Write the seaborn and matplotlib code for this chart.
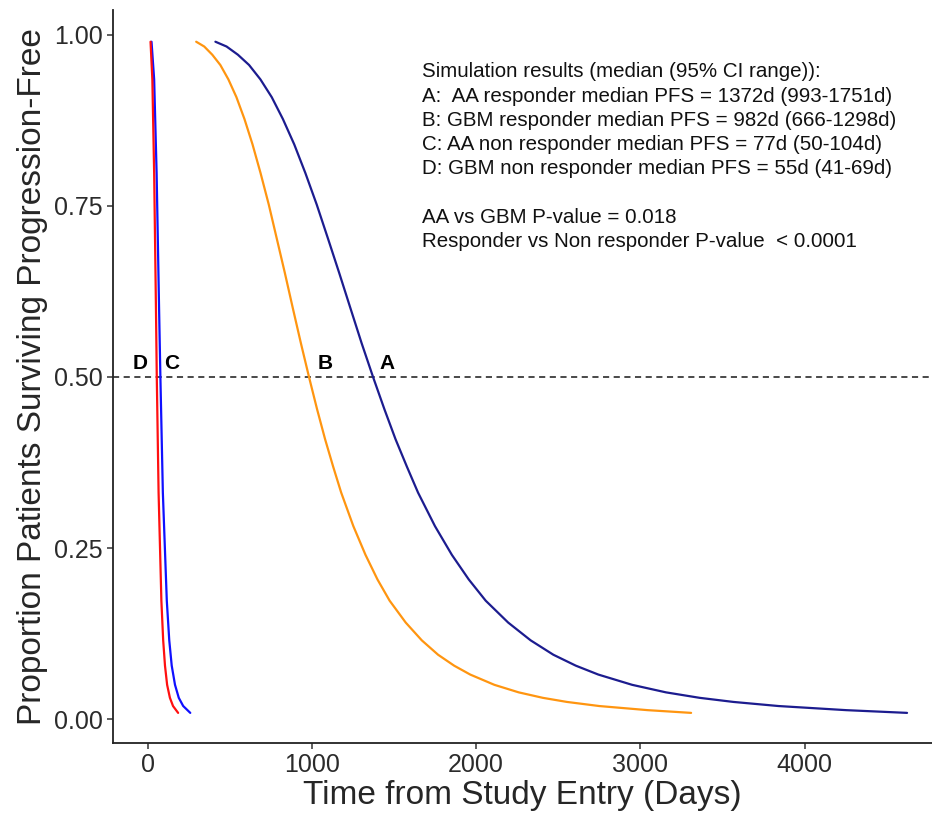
import pandas as pd
import matplotlib.pyplot as plt
import seaborn as sns

# ---- data (days, proportion progression-free) ----
a_days = [412, 480, 549, 617, 686, 755, 823, 892, 960, 1029, 1098, 1166, 1235,
          1303, 1372, 1441, 1509, 1578, 1646, 1749, 1852, 1955, 2058, 2195, 2332,
          2470, 2607, 2744, 2950, 3156, 3361, 3567, 3842, 4253, 4624]
b_days = [295, 344, 393, 442, 491, 540, 589, 638, 687, 737, 786, 835, 884,
          933, 982, 1031, 1080, 1129, 1178, 1252, 1326, 1399, 1473, 1571, 1669,
          1768, 1866, 1964, 2111, 2259, 2406, 2553, 2750, 3044, 3309]
ab_prop = [0.990, 0.983, 0.971, 0.956, 0.935, 0.909, 0.877, 0.840, 0.798, 0.752,
           0.702, 0.652, 0.600, 0.549, 0.500, 0.453, 0.409, 0.369, 0.331, 0.282,
           0.240, 0.204, 0.173, 0.141, 0.115, 0.094, 0.078, 0.065, 0.050, 0.039,
           0.031, 0.025, 0.019, 0.013, 0.009]

c_days = [23, 39, 54, 69, 77, 92, 116, 131, 146, 166, 189, 216, 259]
d_days = [17, 28, 39, 50, 55, 66, 83, 94, 105, 118, 135, 154, 185]
cd_prop = [0.990, 0.935, 0.798, 0.600, 0.500, 0.331, 0.173, 0.115, 0.078,
           0.050, 0.031, 0.019, 0.009]

curve_names = ['A', 'B', 'C', 'D']
curve_colors = {'A': '#1c1c8f', 'B': '#ff9510', 'C': '#1010ff', 'D': '#ff1010'}

label_x = [1459, 1080, 145, -44]
label_txt = ['A', 'B', 'C', 'D']

info_lines = [
    "Simulation results (median (95% CI range)):",
    "A:  AA responder median PFS = 1372d (993-1751d)",
    "B: GBM responder median PFS = 982d (666-1298d)",
    "C: AA non responder median PFS = 77d (50-104d)",
    "D: GBM non responder median PFS = 55d (41-69d)",
    "",
    "AA vs GBM P-value = 0.018",
    "Responder vs Non responder P-value  < 0.0001",
]

rows = []
for name, xs, ys in zip(curve_names, [a_days, b_days, c_days, d_days],
                        [ab_prop, ab_prop, cd_prop, cd_prop]):
    for x, y in zip(xs, ys):
        rows.append({'curve': name, 'days': x, 'prop': y})
df = pd.DataFrame(rows)

# ---- style ----
sns.set_style('ticks')
plt.rcParams['font.family'] = ['Liberation Sans', 'DejaVu Sans']

fig = plt.figure(figsize=(9.32, 8.26), dpi=100)
ax = fig.add_axes([0.121, 0.1005, 0.879, 0.8875])

sns.lineplot(data=df, x='days', y='prop', hue='curve', palette=curve_colors,
             estimator=None, sort=False, linewidth=1.6, legend=False, ax=ax)

ax.axhline(0.5, color='#3a3a3a', lw=1.3, dashes=(3.4, 2.5), zorder=1)

for lx, lt in zip(label_x, label_txt):
    ax.text(lx, 0.52, lt, ha='center', va='center', fontsize=15,
            fontweight='bold', color='black')

for i, line in enumerate(info_lines):
    ax.text(1669, 0.946 - i * 0.0355, line, ha='left', va='center',
            fontsize=14.8, color='#111111')

ax.set_xlim(-213, 4776)
ax.set_ylim(-0.035, 1.0365)
ax.set_xticks([0, 1000, 2000, 3000, 4000])
ax.set_yticks([0, 0.25, 0.5, 0.75, 1.0])
ax.set_yticklabels(['0.00', '0.25', '0.50', '0.75', '1.00'])

sns.despine(ax=ax)
for sp in ['left', 'bottom']:
    ax.spines[sp].set_linewidth(1.3)
    ax.spines[sp].set_color('#222222')
ax.tick_params(axis='both', length=4.3, width=1.1, color='#333333',
               labelsize=18, labelcolor='#2b2b2b', pad=3)

ax.set_xlabel('Time from Study Entry (Days)', fontsize=24, labelpad=2)
ax.set_ylabel('Proportion Patients Surviving Progression-Free', fontsize=24,
              labelpad=4)

fig.savefig('out.png', dpi=100)
